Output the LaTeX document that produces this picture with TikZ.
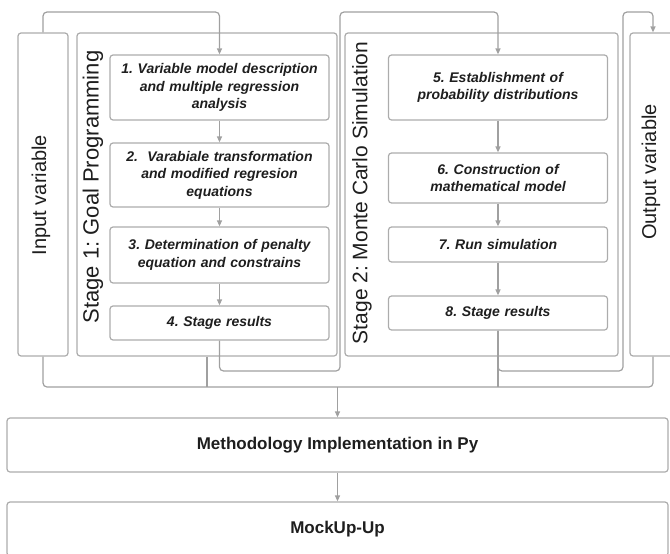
\documentclass[tikz,border=0pt]{standalone}
\usepackage{fontspec}
\setmainfont{Liberation Sans}
\usetikzlibrary{arrows.meta}
\definecolor{linegray}{RGB}{160,160,160}
\definecolor{boxgray}{RGB}{172,172,172}
\definecolor{inkdark}{RGB}{30,30,30}
\frenchspacing

\begin{document}
\begin{tikzpicture}[
		x=1pt, y=-1pt,
		>={Triangle[length=6pt, width=5pt]},
		frame/.style = {draw=boxgray, line width=1.2pt, rounded corners=3pt, inner sep=0pt},
		task/.style = {frame, text width=210pt, inner xsep=4.5pt, align=center, text=inkdark,
			font=\fontsize{14}{17.5}\selectfont\bfseries\itshape},
		wide/.style = {frame, minimum width=661pt, minimum height=54pt, text=inkdark,
			font=\fontsize{17}{20}\selectfont\bfseries},
		side/.style = {rotate=90, inner sep=0pt, text=inkdark, font=\fontsize{21}{24}\selectfont},
		conn/.style = {draw=linegray, line width=1.2pt, rounded corners=4pt}
	]
	\useasboundingbox (0,0) rectangle (670,554);
	% Frames of the four columns.
	\node[frame, minimum width=50pt, minimum height=323pt] (in) at (43,194.5) {};
	\node[frame, minimum width=260pt, minimum height=323pt] (s1) at (207,194.5) {};
	\node[frame, minimum width=273pt, minimum height=323pt] (s2) at (481.5,194.5) {};
	\node[frame, minimum width=46pt, minimum height=323pt] (out) at (653,194.5) {};
	\node[side, font=\fontsize{20}{24}\selectfont] (inlab) at (41,195) {Input variable};
	\node[side, font=\fontsize{22}{24}\selectfont] (s1lab) at (93,187) {Stage 1: Goal Programming};
	\node[side] (s2lab) at (362,193) {Stage 2: Monte Carlo Simulation};
	\node[side, font=\fontsize{20}{24}\selectfont] (outlab) at (651,172) {Output variable};
	% Stage 1 tasks.
	\node[task, minimum height=65pt] (b1) at (219.5,87.5) {1. Variable model description\\and multiple regression\\analysis};
	\node[task, minimum height=64pt] (b2) at (219.5,175) {2.\ \ Varabiale transformation\\and modified regresion\\equations};
	\node[task, minimum height=56pt] (b3) at (219.5,255) {3. Determination of penalty\\equation and constrains};
	\node[task, minimum height=34pt] (b4) at (219.5,323) {4. Stage results};
	% Stage 2 tasks.
	\node[task, minimum height=65pt] (b5) at (498,87.5) {5. Establishment of\\probability distributions};
	\node[task, minimum height=50pt] (b6) at (498,178) {6. Construction of\\mathematical model};
	\node[task, minimum height=35pt] (b7) at (498,244.5) {7. Run simulation};
	\node[task, minimum height=34pt] (b8) at (498,313) {8. Stage results};
	% Implementation rows.
	\node[wide] (impl) at (337.5,445) {Methodology Implementation in Py};
	\node[wide] (mock) at (337.5,529) {MockUp-Up};
	% Bends of the connectors.
	\coordinate (top1) at (219.5,12);
	\coordinate (low1) at (340,371);
	\coordinate (up1) at (340,12);
	\coordinate (low2) at (623,371);
	\coordinate (up2) at (623,12);
	\coordinate (bus) at (653,387);
	\coordinate (busmid) at (337.5,387);
	% Draw the flow inside the stages.
	\draw[conn, ->] (in.north) |- (top1) -- (b1.north);
	\draw[conn, ->] (b1) -- (b2);
	\draw[conn, ->] (b2) -- (b3);
	\draw[conn, ->] (b3) -- (b4);
	\draw[conn, ->] (b4.south) |- (low1) -- (up1) -| (b5.north);
	\draw[conn, ->] (b5) -- (b6);
	\draw[conn, ->] (b6) -- (b7);
	\draw[conn, ->] (b7) -- (b8);
	\draw[conn, ->] (b8.south) |- (low2) -- (up2) -| (out.north);
	% Draw the collecting line.
	\draw[conn] (in.south) |- (bus) -- (out.south);
	\draw[conn] (s1.south) -- (s1.south |- bus);
	\draw[conn] (b8.south) -- (b8.south |- bus);
	\draw[conn, ->] (busmid) -- (impl.north);
	\draw[conn, ->] (impl) -- (mock);
\end{tikzpicture}
\end{document}
